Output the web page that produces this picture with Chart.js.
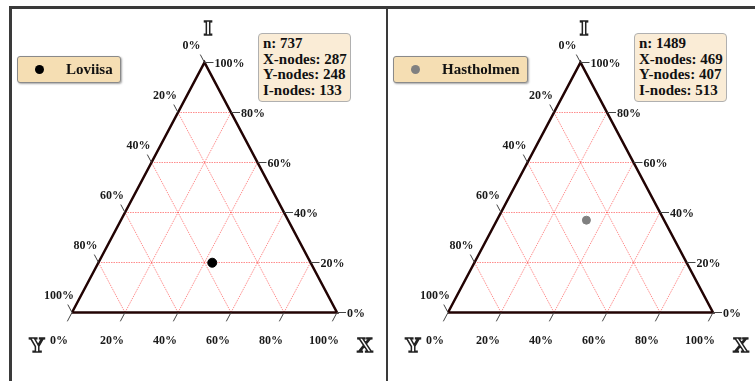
<!DOCTYPE html>
<html>
<head>
<meta charset="utf-8">
<script src="https://cdn.jsdelivr.net/npm/chart.js@4.4.0/dist/chart.umd.min.js"></script>
<style>
  html, body { margin: 0; padding: 0; background: #fff; overflow: hidden; }
  body { width: 755px; height: 381px; position: relative; font-family: "Liberation Serif", "DejaVu Serif", serif; }
  .rule { position: absolute; background: #3a3a3a; }
  .panel { position: absolute; top: 0; width: 376px; height: 381px; }
  .panel canvas { position: absolute; left: 0; top: 0; }
  .legend {
    position: absolute; left: 17px; top: 56px; height: 27px; box-sizing: border-box;
    display: flex; align-items: center; padding: 0 7px 0 17px;
    background: #f5deb3; border: 1px solid #8a8a8a; border-radius: 3px;
    box-shadow: 1px 1px 2px rgba(0,0,0,0.35);
    font-weight: bold; font-size: 15px; color: #111;
  }
  .legend .dot { width: 9px; height: 9px; border-radius: 50%; margin-right: 22px; }
  .info {
    position: absolute; left: 258px; top: 33px; width: 93px; height: 69px; box-sizing: border-box;
    padding: 2px 4px; background: #faecd6; border: 1px solid #b0b0b0; border-radius: 4px;
    font-weight: bold; font-size: 15px; line-height: 15.7px; color: #111; white-space: nowrap;
  }
</style>
</head>
<body>
<div class="rule" style="left:9px; top:6px; width:746px; height:3px;"></div>
<div class="rule" style="left:9px; top:6px; width:3px; height:375px;"></div>
<div class="rule" style="left:386px; top:6px; width:2px; height:375px;"></div>
<div id="panels"></div>
<script>
// Sites and their node counts
const sites = ['Loviisa', 'Hastholmen'];
const nTotals = [737, 1489];
const xNodes = [287, 469];
const yNodes = [248, 407];
const iNodes = [133, 513];
// Percentage ticks shared by the three ternary axes
const tickValues = [0, 20, 40, 60, 80, 100];

const siteColors = ['#000000', '#808080'];
const siteRadius = [4.5, 4];
const LABEL_FONT = 'bold 12px "Liberation Serif", serif';

// Ternary (X, I) fractions -> cartesian data coordinates (Y is implied)
const tern = (X, I) => ({ x: X + I / 2, y: I });

function gridSegments() {
  const segs = [];
  tickValues.slice(1, -1).forEach(v => {
    const f = v / 100;
    segs.push([tern(0, f), tern(1 - f, f)]);       // constant I
    segs.push([tern(f, 0), tern(f, 1 - f)]);       // constant X
    segs.push([tern(1 - f, 0), tern(0, 1 - f)]);   // constant Y
  });
  return segs;
}

const ternaryAxes = {
  id: 'ternaryAxes',
  afterDatasetsDraw(chart) {
    const { ctx, scales: { x, y } } = chart;
    const px = (X, I) => ({ x: x.getPixelForValue(X + I / 2), y: y.getPixelForValue(I) });
    const unit = (a, b) => { const dx = b.x - a.x, dy = b.y - a.y, l = Math.hypot(dx, dy); return { x: dx / l, y: dy / l }; };
    const apex = px(0, 1), vX = px(1, 0), vY = px(0, 0);
    const upLeft = unit(vX, apex);
    const downLeft = unit(apex, vY);
    const seg = (a, b) => { ctx.beginPath(); ctx.moveTo(a.x, a.y); ctx.lineTo(b.x, b.y); ctx.stroke(); };

    ctx.save();
    ctx.strokeStyle = '#444';
    ctx.lineWidth = 1;
    ctx.fillStyle = '#1a1a1a';
    ctx.font = LABEL_FONT;
    ctx.textBaseline = 'middle';
    tickValues.forEach(v => {
      const f = v / 100;
      const label = v + '%';
      // Y axis along the left edge
      let p = px(0, 1 - f);
      seg(p, { x: p.x + 9 * upLeft.x, y: p.y + 9 * upLeft.y });
      ctx.textAlign = 'center';
      ctx.fillText(label, p.x - 13, p.y - 16.5);
      // I axis along the right edge
      p = px(1 - f, f);
      seg(p, { x: p.x + 9, y: p.y });
      ctx.textAlign = 'left';
      ctx.fillText(label, p.x + 10, p.y + 1);
      // X axis along the base
      p = px(f, 0);
      seg(p, { x: p.x + 10 * downLeft.x, y: p.y + 10 * downLeft.y });
      ctx.textAlign = 'center';
      ctx.fillText(label, p.x - 13, p.y + 28);
    });

    // Outlined axis letters
    ctx.font = 'bold 22px "Liberation Serif", serif';
    ctx.textAlign = 'center';
    ctx.textBaseline = 'middle';
    ctx.lineWidth = 1.5;
    ctx.strokeStyle = '#222';
    ctx.fillStyle = '#fff';
    [['I', apex.x + 3.5, apex.y - 33], ['Y', vY.x - 35, vY.y + 34], ['X', vX.x + 28, vX.y + 34]].forEach(([t, tx, ty]) => {
      ctx.fillText(t, tx, ty);
      ctx.strokeText(t, tx, ty);
    });
    ctx.restore();
  }
};

const panels = document.getElementById('panels');
sites.forEach((name, k) => {
  const panel = document.createElement('div');
  panel.className = 'panel';
  panel.style.left = (k * 376) + 'px';
  const canvas = document.createElement('canvas');
  canvas.width = 376; canvas.height = 381;
  panel.appendChild(canvas);

  const legend = document.createElement('div');
  legend.className = 'legend';
  const dot = document.createElement('span');
  dot.className = 'dot';
  dot.style.background = siteColors[k];
  const txt = document.createElement('span');
  txt.textContent = name;
  legend.appendChild(dot); legend.appendChild(txt);
  panel.appendChild(legend);

  const info = document.createElement('div');
  info.className = 'info';
  info.innerHTML = 'n: ' + nTotals[k] + '<br>X-nodes: ' + xNodes[k] + '<br>Y-nodes: ' + yNodes[k] + '<br>I-nodes: ' + iNodes[k];
  panel.appendChild(info);
  panels.appendChild(panel);

  const sum = xNodes[k] + yNodes[k] + iNodes[k];
  const site = tern(xNodes[k] / sum, iNodes[k] / sum);

  const datasets = [{
    label: name,
    data: [site],
    backgroundColor: siteColors[k],
    borderColor: siteColors[k],
    pointRadius: siteRadius[k],
    showLine: false,
    order: 0,
    clip: false
  }, {
    label: 'frame',
    data: [tern(0, 0), tern(1, 0), tern(0, 1), tern(0, 0)],
    borderColor: '#220303',
    borderWidth: 2.5,
    pointRadius: 0,
    showLine: true,
    order: 1,
    clip: false
  }];
  gridSegments().forEach(s => datasets.push({
    label: 'grid',
    data: s,
    borderColor: 'rgba(255,0,0,0.45)',
    borderWidth: 1,
    borderDash: [1.5, 1],
    pointRadius: 0,
    showLine: true,
    order: 2,
    clip: false
  }));

  new Chart(canvas, {
    type: 'scatter',
    data: { datasets },
    options: {
      responsive: false,
      animation: false,
      layout: { padding: { left: 72, right: 39, top: 62.5, bottom: 68.5 } },
      plugins: { legend: { display: false }, tooltip: { enabled: false } },
      scales: {
        x: { type: 'linear', min: 0, max: 1, display: false },
        y: { type: 'linear', min: 0, max: 1, display: false }
      }
    },
    plugins: [ternaryAxes]
  });
});
</script>
</body>
</html>
